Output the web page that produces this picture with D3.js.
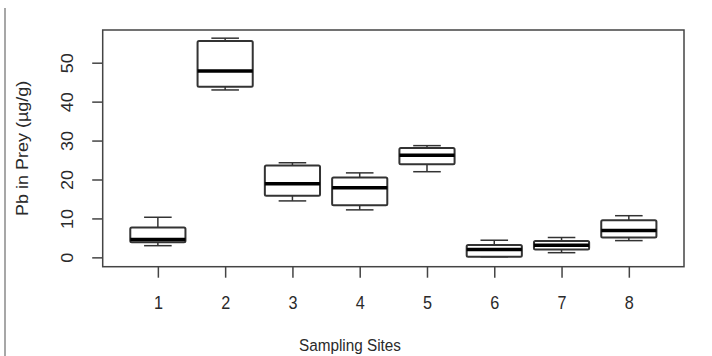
<!DOCTYPE html>
<html>
<head>
<meta charset="utf-8">
<script src="https://cdn.jsdelivr.net/npm/d3@7"></script>
<style>
  body { margin: 0; background: #fff; }
  text { font-family: 'Liberation Sans', Arial, sans-serif; fill: #2a2a2a; }
</style>
</head>
<body>
<div class="chart"></div>
<script>
const svgWidth = 712;
const svgHeight = 356;

// values (µg/g)
const sites = [1, 2, 3, 4, 5, 6, 7, 8];
const whiskerLow = [3.0, 43.0, 14.5, 12.2, 22.0, 0.15, 1.2, 4.3];
const q1 = [3.85, 43.8, 15.8, 13.4, 23.9, 0.15, 2.05, 5.1];
const medians = [4.6, 47.9, 18.9, 17.9, 26.2, 2.05, 3.1, 6.9];
const q3 = [7.7, 55.6, 23.6, 20.5, 28.1, 3.2, 4.2, 9.5];
const whiskerHigh = [10.3, 56.3, 24.3, 21.7, 28.7, 4.4, 5.1, 10.7];
const yTicks = [0, 10, 20, 30, 40, 50];

const frame = { left: 102.7, right: 684, top: 30, bottom: 266.7 };

// R style: 4% padding past the data
const x = d3.scaleLinear()
  .domain([0.18, 8.82])
  .range([frame.left, frame.right]);

const y = d3.scaleLinear()
  .domain([-2.4, 58.4])
  .range([frame.bottom, frame.top]);

const boxWidth = 0.82;
const lineColor = '#333';

const svg = d3.select('.chart')
  .append('svg')
  .attr('width', svgWidth)
  .attr('height', svgHeight);

// page border line on the left
svg.append('line')
  .attr('x1', 5).attr('x2', 5)
  .attr('y1', 8).attr('y2', svgHeight)
  .attr('stroke', '#8a8a8a')
  .attr('stroke-width', 1.5);

const boxes = sites.map((s, i) => ({
  site: s,
  lo: whiskerLow[i],
  q1: q1[i],
  med: medians[i],
  q3: q3[i],
  hi: whiskerHigh[i]
}));

const boxGroup = svg.append('g')
  .selectAll('g')
  .data(boxes)
  .enter()
  .append('g');

// whiskers
boxGroup.append('line')
  .attr('x1', d => x(d.site)).attr('x2', d => x(d.site))
  .attr('y1', d => y(d.q3)).attr('y2', d => y(d.hi))
  .attr('stroke', lineColor).attr('stroke-width', 1.5);

boxGroup.append('line')
  .attr('x1', d => x(d.site)).attr('x2', d => x(d.site))
  .attr('y1', d => y(d.q1)).attr('y2', d => y(d.lo))
  .attr('stroke', lineColor).attr('stroke-width', 1.5);

// staples
boxGroup.selectAll('.staple')
  .data(d => [{ site: d.site, v: d.hi }, { site: d.site, v: d.lo }])
  .enter()
  .append('line')
  .attr('class', 'staple')
  .attr('x1', d => x(d.site - boxWidth / 4))
  .attr('x2', d => x(d.site + boxWidth / 4))
  .attr('y1', d => y(d.v)).attr('y2', d => y(d.v))
  .attr('stroke', lineColor).attr('stroke-width', 1.5);

// boxes
boxGroup.append('rect')
  .attr('x', d => x(d.site - boxWidth / 2))
  .attr('width', x(boxWidth) - x(0))
  .attr('y', d => y(d.q3))
  .attr('height', d => y(d.q1) - y(d.q3))
  .attr('fill', '#fff')
  .attr('stroke', lineColor)
  .attr('stroke-width', 2)
  .attr('rx', 1.5);

// medians
boxGroup.append('line')
  .attr('x1', d => x(d.site - boxWidth / 2))
  .attr('x2', d => x(d.site + boxWidth / 2))
  .attr('y1', d => y(d.med)).attr('y2', d => y(d.med))
  .attr('stroke', '#000').attr('stroke-width', 3.5);

// frame
svg.append('rect')
  .attr('x', frame.left)
  .attr('y', frame.top)
  .attr('width', frame.right - frame.left)
  .attr('height', frame.bottom - frame.top)
  .attr('fill', 'none')
  .attr('stroke', '#444')
  .attr('stroke-width', 1.5);

// x axis
const xAxis = svg.append('g')
  .attr('transform', `translate(0, ${frame.bottom})`)
  .call(d3.axisBottom(x).tickValues(sites).tickSize(11).tickFormat(d3.format('d')));
xAxis.select('.domain').remove();
xAxis.selectAll('line').attr('stroke', '#444').attr('stroke-width', 1.5);
xAxis.selectAll('text')
  .attr('y', 309 - frame.bottom)
  .attr('dy', null)
  .attr('transform', 'scale(0.9,1)')
  .style('font-size', '18px')
  .style('fill', '#2a2a2a');

// y axis
const yAxis = svg.append('g')
  .attr('transform', `translate(${frame.left}, 0)`)
  .call(d3.axisLeft(y).tickValues(yTicks).tickSize(10.5));
yAxis.select('.domain').remove();
yAxis.selectAll('line').attr('stroke', '#444').attr('stroke-width', 1.5);
yAxis.selectAll('text')
  .attr('x', 0)
  .attr('dy', null)
  .attr('text-anchor', 'middle')
  .attr('transform', `translate(${73 - frame.left}, 0) scale(0.9,1) rotate(-90)`)
  .style('font-size', '18px')
  .style('fill', '#2a2a2a');

// axis titles
svg.append('text')
  .attr('transform', `translate(28, ${(frame.top + frame.bottom) / 2}) scale(0.9,1) rotate(-90)`)
  .attr('text-anchor', 'middle')
  .style('font-size', '18px')
  .text('Pb in Prey (µg/g)');

svg.append('text')
  .attr('transform', 'translate(350, 351) scale(0.9,1)')
  .attr('text-anchor', 'middle')
  .style('font-size', '17px')
  .text('Sampling Sites');
</script>
</body>
</html>
